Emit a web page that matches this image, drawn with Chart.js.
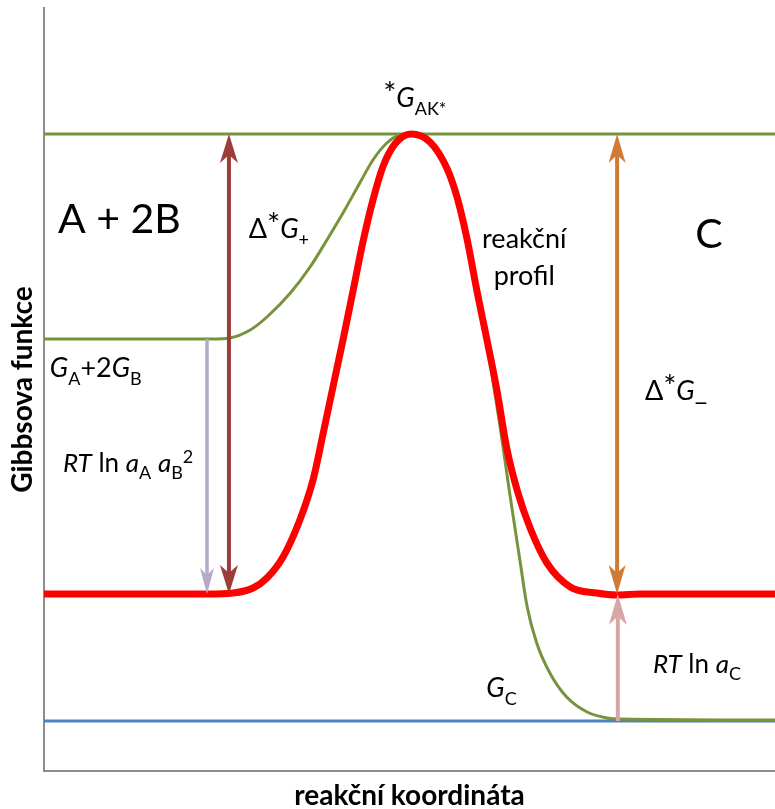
<!DOCTYPE html>
<html>
<head>
<meta charset="utf-8">
<script src="https://cdn.jsdelivr.net/npm/chart.js@4.4.1/dist/chart.umd.min.js"></script>
<style>
  html, body { margin: 0; padding: 0; background: #fff; }
</style>
</head>
<body>
<canvas id="gibbs" width="775" height="809"></canvas>
<script>
// reaction coordinate runs 0..100, Gibbs function in arbitrary units (G_C = 0)
const levelTS = 58.7;       // *G_AK*
const levelReact = 38.2;    // G_A + 2G_B
const levelProfile = 12.7;  // flat parts of the red profile
const levelC = 0;           // G_C

// red "reakční profil"
const coordProfile = [0, 22.3, 25.9, 28.6, 30.5, 32.7, 35.0, 36.8, 38.2, 39.5,
  40.9, 42.3, 43.6, 45.0, 46.4, 48.0, 50.2, 52.8, 55.1, 56.5,
  57.9, 59.2, 60.6, 62.0, 63.3, 64.8, 66.5, 68.8, 72.0, 75.6,
  78.4, 81.5, 100];
const gProfile = [12.7, 12.7, 12.8, 13.3, 14.3, 16.4, 20.1, 24.1, 28.8, 33.3,
  38.1, 43.1, 47.8, 52.1, 55.5, 57.7, 58.7, 57.9, 55.3, 52.4,
  48.1, 43.1, 38.1, 32.9, 27.3, 22.9, 19.3, 15.8, 13.4, 12.8,
  12.6, 12.7, 12.7];

// green standard-state curve
const coordStd = [0, 23.0, 25.4, 28.2, 30.5, 33.7, 36.4, 38.7, 40.9, 43.2,
  45.0, 46.9, 48.7, 50.1, 52.8, 55.1, 56.5, 57.9, 59.2, 60.6,
  61.4, 62.4, 63.7, 65.1, 66.1, 67.4, 69.2, 71.5, 74.3, 77.0,
  78.8, 100];
const gStd = [38.2, 38.2, 38.3, 39.1, 40.4, 42.8, 45.4, 48.1, 50.8, 53.8,
  56.1, 57.8, 58.6, 58.7, 57.9, 55.3, 52.5, 48.5, 43.5, 38.3,
  34.1, 29.4, 22.8, 16.1, 11.4, 7.8, 4.8, 2.4, 0.9, 0.3,
  0.2, 0.1];

// vertical arrows: position on the reaction coordinate, from -> to
const arrowDeltaPlus = { x: 25.3, from: levelProfile, to: levelTS };
const arrowRTlnA = { x: 22.3, from: levelReact, to: levelProfile };
const arrowDeltaMinus = { x: 78.4, from: levelProfile, to: levelTS };
const arrowRTlnC = { x: 78.5, from: levelC, to: levelProfile };

// labels: [segments], anchor x, anchor G
const labelReactants = [[['A + 2B', 'n']], 1.9, 48.8];
const labelProduct = [[['C', 'n']], 89.1, 47.3];
const labelDeltaPlus = [[['Δ', 'n'], ['*', 'star'], ['G', 'i'], ['+', 'sub']], 28.0, 48.3];
const labelProfile1 = [[['reakční', 'n']], 65.7, 47.3];
const labelProfile2 = [[['profil', 'n']], 65.7, 43.6];
const labelTS = [[['*', 'star'], ['G', 'i'], ['AK*', 'sub']], 46.4, 61.4];
const labelGReact = [[['G', 'i'], ['A', 'sub'], ['+2', 'n'], ['G', 'i'], ['B', 'sub']], 0.8, 34.4];
const labelRTlnA = [[['RT', 'i'], [' ln ', 'n'], ['a', 'i'], ['A', 'sub'], [' ', 'n'], ['a', 'i'], ['B', 'sub'], ['2', 'sup']], 2.6, 24.9];
const labelDeltaMinus = [[['Δ', 'n'], ['*', 'star'], ['G', 'i'], ['_', 'n']], 82.2, 32.1];
const labelRTlnC = [[['RT', 'i'], [' ln ', 'n'], ['a', 'i'], ['C', 'sub']], 83.3, 4.8];
const labelGC = [[['G', 'i'], ['C', 'sub']], 60.5, 2.4];

const FAMILY = 'Lato, "Noto Sans", "DejaVu Sans", sans-serif';

const pts = (xs, gs) => xs.map((v, i) => ({ x: v, y: gs[i] }));

const arrowSpecs = [
  { a: arrowDeltaPlus, color: '#9C3D3A', width: 4, headW: 18, headL: 29, both: true },
  { a: arrowRTlnA, color: '#B4A9C9', width: 3.5, headW: 14, headL: 26, both: false },
  { a: arrowDeltaMinus, color: '#CF7A35', width: 4, headW: 17, headL: 29, both: true },
  { a: arrowRTlnC, color: '#D8A6A6', width: 4, headW: 18, headL: 31, both: false },
];

const labelSpecs = [
  { l: labelReactants, size: 41 },
  { l: labelProduct, size: 41 },
  { l: labelDeltaPlus, size: 27 },
  { l: labelProfile1, size: 27, center: true },
  { l: labelProfile2, size: 27, center: true },
  { l: labelTS, size: 27 },
  { l: labelGReact, size: 27 },
  { l: labelRTlnA, size: 26 },
  { l: labelDeltaMinus, size: 27 },
  { l: labelRTlnC, size: 26 },
  { l: labelGC, size: 27 },
];

function drawHead(ctx, x, tipY, dir, w, L) {
  // dir = +1 head points up (shaft below), -1 head points down
  ctx.beginPath();
  ctx.moveTo(x, tipY);
  ctx.lineTo(x - w / 2, tipY + dir * L);
  ctx.lineTo(x, tipY + dir * L * 0.72);
  ctx.lineTo(x + w / 2, tipY + dir * L);
  ctx.closePath();
  ctx.fill();
}

function segFont(style, size) {
  let s = size;
  if (style === 'sub' || style === 'sup') s = Math.round(size * 0.68);
  if (style === 'star') s = Math.round(size * 1.15);
  return (style === 'i' ? 'italic ' : '') + s + 'px ' + FAMILY;
}

function drawRich(ctx, segs, x, y, size, center) {
  let total = 0;
  segs.forEach(([t, st]) => { ctx.font = segFont(st, size); total += ctx.measureText(t).width; });
  let cx = center ? x - total / 2 : x;
  segs.forEach(([t, st]) => {
    ctx.font = segFont(st, size);
    let dy = 0;
    if (st === 'sub') dy = size * 0.28;
    if (st === 'sup') dy = -size * 0.34;
    if (st === 'star') dy = -size * 0.12;
    ctx.fillText(t, cx, y + dy);
    cx += ctx.measureText(t).width;
  });
}

const overlay = {
  id: 'overlay',
  afterDatasetsDraw(chart) {
    const { ctx, scales: { x, y } } = chart;
    ctx.save();
    arrowSpecs.forEach(s => {
      const px = x.getPixelForValue(s.a.x);
      const p0 = y.getPixelForValue(s.a.from);
      const p1 = y.getPixelForValue(s.a.to);
      const dir = p1 < p0 ? 1 : -1; // head at p1 points towards p1
      ctx.strokeStyle = s.color;
      ctx.fillStyle = s.color;
      ctx.lineWidth = s.width;
      const start = s.both ? p0 - dir * s.headL * 0.7 : p0;
      const end = p1 + dir * s.headL * 0.7;
      ctx.beginPath();
      ctx.moveTo(px, start);
      ctx.lineTo(px, end);
      ctx.stroke();
      drawHead(ctx, px, p1, dir, s.headW, s.headL);
      if (s.both) drawHead(ctx, px, p0, -dir, s.headW, s.headL);
    });
    ctx.fillStyle = '#000';
    ctx.textBaseline = 'alphabetic';
    ctx.textAlign = 'left';
    labelSpecs.forEach(s => {
      const [segs, lx, ly] = s.l;
      drawRich(ctx, segs, x.getPixelForValue(lx), y.getPixelForValue(ly), s.size, s.center);
    });
    ctx.restore();
  }
};

// first dataset is painted on top
new Chart(document.getElementById('gibbs'), {
  type: 'line',
  data: {
    datasets: [
      {
        data: pts(coordProfile, gProfile),
        borderColor: '#FF0000',
        borderWidth: 7,
        cubicInterpolationMode: 'monotone',
        pointRadius: 0,
      },
      {
        data: pts(coordStd, gStd),
        borderColor: '#77933C',
        borderWidth: 3,
        cubicInterpolationMode: 'monotone',
        pointRadius: 0,
      },
      {
        data: pts([0, 100], [levelTS, levelTS]),
        borderColor: '#77933C',
        borderWidth: 3,
        pointRadius: 0,
      },
      {
        data: pts([0, 100], [levelC, levelC]),
        borderColor: '#4F81BD',
        borderWidth: 3,
        pointRadius: 0,
      },
    ]
  },
  options: {
    responsive: false,
    animation: false,
    layout: { padding: { top: 8, right: 0, left: 0, bottom: 0 } },
    plugins: {
      legend: { display: false },
      tooltip: { enabled: false },
    },
    scales: {
      x: {
        type: 'linear',
        min: 0,
        max: 100,
        ticks: { display: false },
        grid: { display: false },
        border: { color: '#8C8C8C', width: 2 },
        title: {
          display: true,
          text: 'reakční koordináta',
          color: '#000',
          font: { family: FAMILY, size: 28, weight: 'bold', lineHeight: 0.93 },
          padding: { top: 0, bottom: 0 },
        },
        afterFit(s) { s.height = 38; },
      },
      y: {
        min: -5.0,
        max: 71.3,
        ticks: { display: false },
        grid: { display: false },
        border: { color: '#8C8C8C', width: 2 },
        title: {
          display: true,
          text: 'Gibbsova funkce',
          color: '#000',
          font: { family: FAMILY, size: 28, weight: 'bold', lineHeight: 1.2 },
          padding: { top: 6, bottom: 0 },
        },
        afterFit(s) { s.width = 44; },
      },
    },
  },
  plugins: [overlay],
});
</script>
</body>
</html>
